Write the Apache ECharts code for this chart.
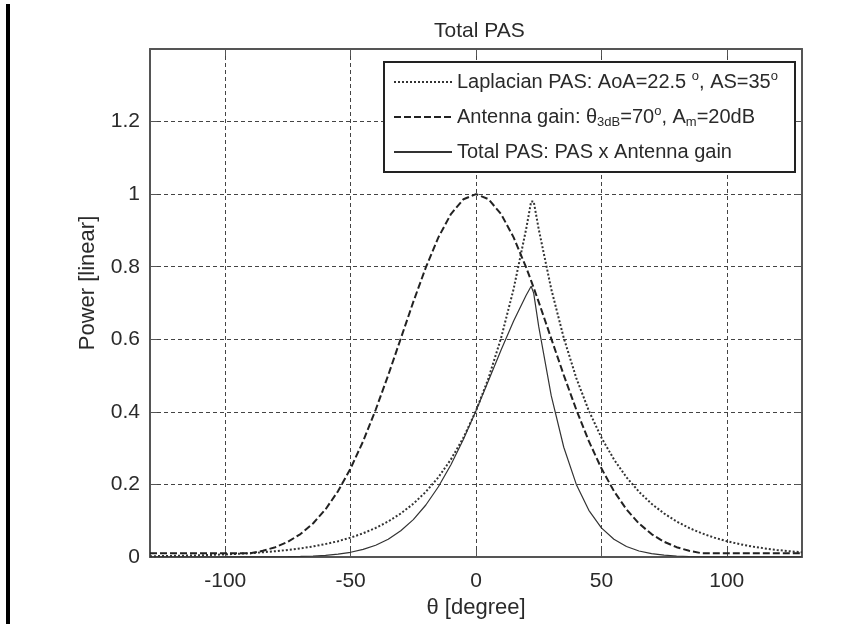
<!DOCTYPE html>
<html>
<head>
<meta charset="utf-8">
<script src="https://cdn.jsdelivr.net/npm/echarts@6/dist/echarts.min.js"></script>
<style>html,body{margin:0;padding:0;background:#fff}#c{width:867px;height:624px}</style>
</head>
<body>
<div id="c"></div>
<script>
// angle samples (degrees)
var theta = [-130,-125,-120,-115,-110,-105,-100,-95,-90,-85,-80,-75,-70,-65,-60,-55,-50,-45,-40,-35,-30,-25,-20,-15,-10,-5,0,5,10,15,20,22,23,25,30,35,40,45,50,55,60,65,70,75,80,85,90,95,100,105,110,115,120,125,130];
// Laplacian PAS (dotted)
var laplacian = [0.0021,0.0026,0.0032,0.0039,0.0047,0.0058,0.0071,0.0087,0.0106,0.0130,0.0159,0.0194,0.0238,0.0291,0.0357,0.0436,0.0534,0.0654,0.0800,0.0979,0.1199,0.1467,0.1796,0.2198,0.2690,0.3292,0.4029,0.4931,0.6035,0.7386,0.9039,0.980,0.980,0.9039,0.7386,0.6035,0.4931,0.4029,0.3292,0.2690,0.2198,0.1796,0.1467,0.1199,0.0979,0.0800,0.0654,0.0534,0.0436,0.0357,0.0291,0.0238,0.0194,0.0159,0.0130];
// Antenna gain (dashed)
var antenna = [0.01,0.01,0.01,0.01,0.01,0.01,0.01,0.01,0.0104,0.0170,0.0271,0.0419,0.0631,0.0923,0.1313,0.1816,0.2443,0.3192,0.4058,0.5012,0.6020,0.7031,0.7980,0.8809,0.9452,0.9860,1.0,0.9860,0.9452,0.8809,0.7980,0.7612,0.7420,0.7031,0.6020,0.5012,0.4058,0.3192,0.2443,0.1816,0.1313,0.0923,0.0631,0.0419,0.0271,0.0170,0.0104,0.01,0.01,0.01,0.01,0.01,0.01,0.01,0.01];
// Total PAS (solid)
var total = [0.00002,0.00003,0.00003,0.00004,0.00005,0.00006,0.00007,0.00009,0.00011,0.00022,0.00043,0.00081,0.0015,0.0027,0.0047,0.0079,0.0130,0.0209,0.0325,0.0491,0.0722,0.1031,0.1433,0.1936,0.2543,0.3246,0.4029,0.4862,0.5704,0.6506,0.7213,0.7460,0.7272,0.6355,0.4446,0.3025,0.2001,0.1286,0.0804,0.0489,0.0289,0.0166,0.0093,0.0050,0.0027,0.0014,0.0007,0.0005,0.0004,0.0004,0.0003,0.0002,0.0002,0.0002,0.0001];
var seriesNames = ['Laplacian PAS: AoA=22.5 o, AS=35o','Antenna gain: θ3dB=70o, Am=20dB','Total PAS: PAS x Antenna gain'];
var legendRich = [
  'Laplacian PAS: AoA=22.5 {sup|o}, AS=35{sup|o}',
  'Antenna gain: θ{sub|3dB}=70{sup|o}, A{sub|m}=20dB',
  'Total PAS: PAS x Antenna gain'
];
var titleText = 'Total PAS';
var xName = 'θ [degree]';
var yName = 'Power [linear]';

function pairs(ys){ return theta.map(function(t,i){ return [t, ys[i]]; }); }

var FONT = 'Liberation Sans';
var TXT = '#2a2a2a';
var chart = echarts.init(document.getElementById('c'), null, {renderer:'canvas'});
var axisCommon = {
  type:'value',
  axisLine:{show:true, onZero:false, lineStyle:{color:'#555', width:2}},
  axisTick:{show:true, inside:true, length:7, lineStyle:{color:'#555', width:1}},
  splitLine:{show:false}
};
chart.setOption({
  animation:false,
  backgroundColor:'#fff',
  title:{text:titleText, left:429, top:16, textStyle:{fontFamily:FONT, fontSize:21, fontWeight:'normal', color:TXT}},
  grid:{left:150, right:65, top:49, bottom:63, containLabel:false},
  graphic:[
    {type:'rect', left:6, top:4, shape:{width:4, height:620}, style:{fill:'#000'}, z:10},
    {type:'rect', left:383, top:61, shape:{width:411, height:110}, style:{fill:'#fff', stroke:'#222', lineWidth:2}, z:5}
  ],
  legend:{
    show:true, orient:'vertical', left:393, top:70, padding:0, itemGap:11,
    itemWidth:58, itemHeight:24, z:6,
    itemStyle:{opacity:0},
    data:seriesNames,
    formatter:function(name){ return legendRich[seriesNames.indexOf(name)]; },
    textStyle:{fontFamily:FONT, fontSize:20, color:TXT, lineHeight:24,
      rich:{
        sup:{fontFamily:FONT, fontSize:13, lineHeight:12, verticalAlign:'top', color:TXT},
        sub:{fontFamily:FONT, fontSize:13, lineHeight:12, verticalAlign:'bottom', color:TXT}
      }}
  },
  xAxis:[
    Object.assign({}, axisCommon, {
      position:'bottom', min:-130, max:130, splitNumber:5, minInterval:50, maxInterval:50,
      name:xName, nameLocation:'middle', nameGap:40,
      nameTextStyle:{fontFamily:FONT, fontSize:22, color:TXT},
      axisLabel:{show:true, margin:14, fontFamily:FONT, fontSize:21, color:TXT, showMinLabel:false, showMaxLabel:false},
      splitLine:{show:true, lineStyle:{color:'#444', width:1, type:[4,3]}}
    }),
    Object.assign({}, axisCommon, {
      position:'top', min:-130, max:130, splitNumber:5, minInterval:50, maxInterval:50,
      axisLabel:{show:false}
    })
  ],
  yAxis:[
    Object.assign({}, axisCommon, {
      position:'left', min:0, max:1.4, interval:0.2,
      name:yName, nameLocation:'middle', nameGap:51, nameRotate:90,
      nameTextStyle:{fontFamily:FONT, fontSize:22, color:TXT, padding:[0,0,0,40]},
      axisLabel:{show:true, margin:10, fontFamily:FONT, fontSize:21, color:TXT, showMaxLabel:false},
      splitLine:{show:true, lineStyle:{color:'#444', width:1, type:[4,3]}}
    }),
    Object.assign({}, axisCommon, {
      position:'right', min:0, max:1.4, interval:0.2,
      axisLabel:{show:false}
    })
  ],
  series:[
    {name:seriesNames[0], type:'line', data:pairs(laplacian), showSymbol:false, symbol:'none', smooth:false,
     lineStyle:{color:'#333', width:2, type:[2,2]}, itemStyle:{color:'#333'}, z:3},
    {name:seriesNames[1], type:'line', data:pairs(antenna), showSymbol:false, symbol:'none', smooth:false,
     lineStyle:{color:'#222', width:2, type:[7,3]}, itemStyle:{color:'#222'}, z:3},
    {name:seriesNames[2], type:'line', data:pairs(total), showSymbol:false, symbol:'none', smooth:false,
     lineStyle:{color:'#333', width:1.2, type:'solid'}, itemStyle:{color:'#333'}, z:3}
  ]
});
</script>
</body>
</html>
